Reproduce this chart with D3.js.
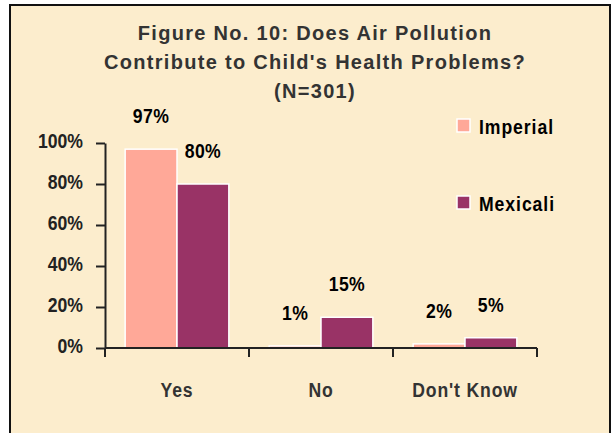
<!DOCTYPE html>
<html>
<head>
<meta charset="utf-8">
<script src="https://cdn.jsdelivr.net/npm/d3@7"></script>
<style>
  body { margin: 0; background: #fff; }
  text { font-family: "Liberation Sans", Arial, sans-serif; font-weight: bold; }
</style>
</head>
<body>
<svg width="615" height="433"></svg>
<script>
const categories = ["Yes", "No", "Don't Know"];
const series = ["Imperial", "Mexicali"];
const imperial = [97, 1, 2];
const mexicali = [80, 15, 5];
const yTicks = [0, 20, 40, 60, 80, 100];
const titleLines = [
  "Figure No. 10:  Does Air Pollution",
  "Contribute to Child's Health Problems?",
  "(N=301)",
];
const colors = { Imperial: "#ffa898", Mexicali: "#993366" };

// the labels in the original use a condensed face; squeeze regular Arial
const squeeze = 0.84;
const narrowAt = (x, y) => `translate(${x},${y}) scale(${squeeze},1)`;

const data = categories.map((c, i) => ({
  category: c,
  values: [
    { key: "Imperial", value: imperial[i] },
    { key: "Mexicali", value: mexicali[i] },
  ],
}));

const svg = d3.select("svg");

// chart area frame
svg.append("rect")
  .attr("x", 10).attr("y", 5)
  .attr("width", 600).attr("height", 440)
  .attr("fill", "#fcedcd")
  .attr("stroke", "#111")
  .attr("stroke-width", 2);

// title
svg.append("g")
  .selectAll("text")
  .data(titleLines)
  .enter()
  .append("text")
  .attr("x", 315)
  .attr("y", (d, i) => 40 + i * 29)
  .attr("text-anchor", "middle")
  .style("font-size", "20px")
  .style("letter-spacing", "1.3px")
  .style("fill", "#333")
  .text((d) => d);

const x0 = d3.scaleBand().domain(categories).range([105, 537]);
const x1 = d3.scaleBand()
  .domain(series)
  .range([x0.bandwidth() * 0.14, x0.bandwidth() * 0.86]);
const y = d3.scaleLinear().domain([0, 100]).range([348, 143]);

// y axis
const yAxis = svg.append("g")
  .attr("transform", "translate(105,0)")
  .call(
    d3.axisLeft(y)
      .tickValues(yTicks)
      .tickFormat((d) => d + "%")
      .tickSize(9)
      .tickSizeOuter(0)
      .tickPadding(13)
  );
yAxis.select(".domain").attr("stroke", "#222").attr("stroke-width", 2);
yAxis.selectAll(".tick line").attr("stroke", "#222").attr("stroke-width", 2);
yAxis.selectAll("text")
  .attr("x", null)
  .attr("dy", "0.2em")
  .attr("transform", narrowAt(-22, 0))
  .style("font-size", "21px")
  .style("fill", "#222");

// bars
const groups = svg.append("g")
  .selectAll("g")
  .data(data)
  .enter()
  .append("g")
  .attr("transform", (d) => `translate(${x0(d.category)},0)`);

groups.selectAll("rect")
  .data((d) => d.values)
  .enter()
  .append("rect")
  .attr("x", (d) => x1(d.key))
  .attr("y", (d) => y(d.value))
  .attr("width", x1.bandwidth())
  .attr("height", (d) => y(0) - y(d.value))
  .attr("fill", (d) => colors[d.key])
  .attr("stroke", "#fff")
  .attr("stroke-width", 1.5);

groups.selectAll(".bar-label")
  .data((d) => d.values)
  .enter()
  .append("text")
  .attr("class", "bar-label")
  .attr("transform", (d) =>
    narrowAt(x1(d.key) + x1.bandwidth() / 2, y(d.value) - 26))
  .attr("text-anchor", "middle")
  .style("font-size", "21px")
  .style("letter-spacing", "0.5px")
  .style("fill", "#000")
  .text((d) => d.value + "%");

// x axis with ticks between categories
const xAxis = svg.append("g");
xAxis.append("line")
  .attr("x1", x0.range()[0]).attr("x2", x0.range()[1])
  .attr("y1", y(0)).attr("y2", y(0))
  .attr("stroke", "#222").attr("stroke-width", 2);
const bounds = categories.map((c) => x0(c)).concat([x0.range()[1]]);
xAxis.selectAll(".xtick")
  .data(bounds)
  .enter()
  .append("line")
  .attr("x1", (d) => d).attr("x2", (d) => d)
  .attr("y1", y(0)).attr("y2", y(0) + 9)
  .attr("stroke", "#222").attr("stroke-width", 2);
xAxis.selectAll(".xlabel")
  .data(categories)
  .enter()
  .append("text")
  .attr("transform", (d) => narrowAt(x0(d) + x0.bandwidth() / 2, 397))
  .attr("text-anchor", "middle")
  .style("font-size", "21px")
  .style("letter-spacing", "1px")
  .style("fill", "#333")
  .text((d) => d);

// legend
const legend = svg.append("g")
  .selectAll("g")
  .data(series)
  .enter()
  .append("g")
  .attr("transform", (d, i) => `translate(457,${119 + i * 77})`);
legend.append("rect")
  .attr("width", 13).attr("height", 13)
  .attr("fill", (d) => colors[d])
  .attr("stroke", "#fff")
  .attr("stroke-width", 1.5);
legend.append("text")
  .attr("transform", narrowAt(22, 15))
  .style("font-size", "21px")
  .style("letter-spacing", "1.1px")
  .style("fill", "#000")
  .text((d) => d);
</script>
</body>
</html>
